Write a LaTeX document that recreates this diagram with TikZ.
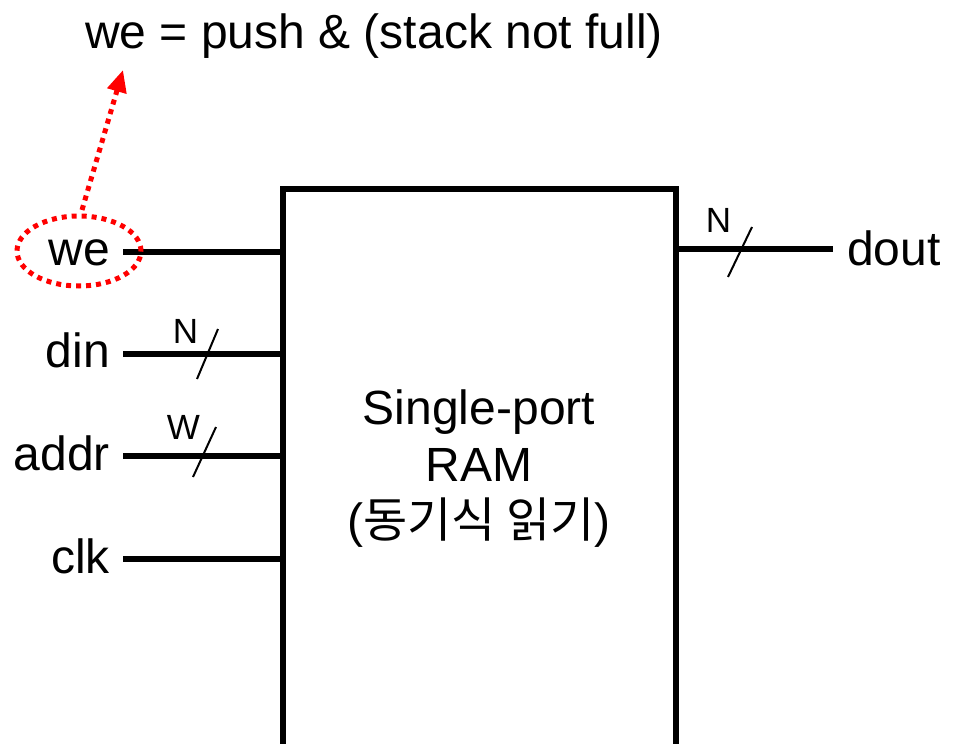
\documentclass[tikz,border=0pt]{standalone}
\usepackage{fontspec}
\setmainfont{Liberation Sans}
\newfontfamily\cjk{Noto Sans CJK KR}
\usetikzlibrary{arrows.meta,shapes.geometric}
\begin{document}
\begin{tikzpicture}[x=1pt,y=-1pt,
  big/.style={font=\fontsize{48}{56.5}\selectfont, inner sep=0pt},
  small/.style={font=\fontsize{35}{40}\selectfont, inner sep=0pt},
  wire/.style={line width=5.5pt},
  tick/.style={line width=2pt},
  redline/.style={red, line width=5pt, dash pattern=on 5pt off 5pt}]
\useasboundingbox (0,0) rectangle (959,744);
\clip (0,0) rectangle (959,744);
% RAM block
\node[draw, line width=6pt, minimum width=393pt, minimum height=560pt,
      anchor=north west, inner sep=0pt, outer sep=0pt] (ram) at (283,189) {};
\node[big, align=center] (ramtext) at (479,469)
  {Single-port\\RAM\\({\cjk 동기식 읽기})};
% ports on the block
\coordinate (pwe)   at (283,252);
\coordinate (pdin)  at (283,354);
\coordinate (paddr) at (283,456);
\coordinate (pclk)  at (283,559);
\coordinate (pdout) at (676,249);
% labels
\node[big, anchor=base east, outer xsep=13pt] (we)   at (123,265) {we};
\node[big, anchor=base east, outer xsep=13pt] (din)  at (123,367) {din};
\node[big, anchor=base east, outer xsep=13pt] (addr) at (123,470) {addr};
\node[big, anchor=base east, outer xsep=13pt] (clk)  at (123,573) {clk};
\node[big, anchor=base west, outer xsep=14pt] (dout) at (833,265) {dout};
% wires
\draw[wire] (we.east |- pwe) -- (pwe);
\draw[wire] (din.east |- pdin) -- (pdin);
\draw[wire] (addr.east |- paddr) -- (paddr);
\draw[wire] (clk.east |- pclk) -- (pclk);
\draw[wire] (pdout) -- (dout.west |- pdout);
% bus width marks
\draw[tick] (207.5,354) ++(-10.5,25) -- ++(21,-50);
\node[small] (nd) at (185.5,331) {N};
\draw[tick] (204.5,452) ++(-11.5,25) -- ++(23,-50);
\node[small] (wa) at (183.5,427.5) {W};
\draw[tick] (740,252) ++(-12,25) -- ++(24,-50);
\node[small] (nq) at (718.5,220.5) {N};
% annotation
\node[big, anchor=base west] (note) at (85,48) {we = push \& (stack not full)};
\node[ellipse, draw, redline, minimum width=124pt, minimum height=70pt, inner sep=0pt, outer sep=0pt] (weoval) at (79,251) {};
\coordinate (tip) at (123,70);
\draw[redline, -{Triangle[length=22pt,width=19pt]}] ([shift={(3,-6)}]weoval.north) -- (tip);
\end{tikzpicture}
\end{document}
